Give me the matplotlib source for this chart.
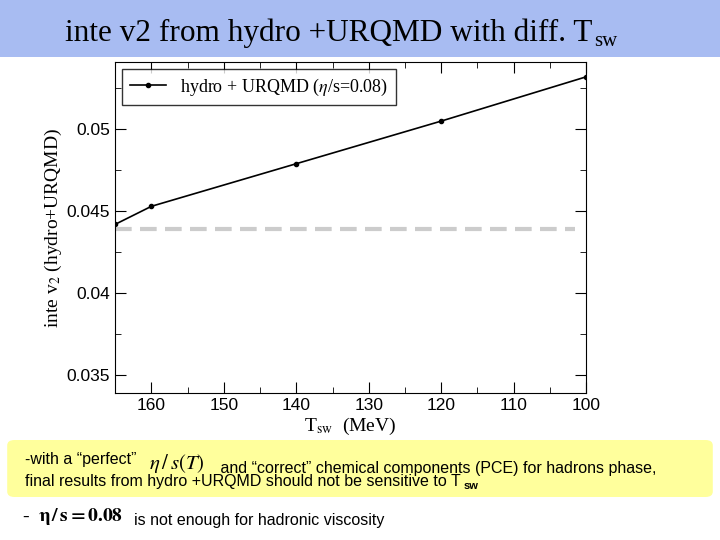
import numpy as np
import matplotlib.pyplot as plt
from matplotlib.patches import Rectangle, FancyBboxPatch

plt.rcParams["font.family"] = ["Liberation Serif", "DejaVu Serif"]
plt.rcParams["mathtext.fontset"] = "stix"

t_sw = [165, 160, 140, 120, 100]
v2 = [0.0442, 0.0453, 0.0479, 0.0505, 0.0532]
ref_v2 = 0.0439

fig = plt.figure(figsize=(7.2, 5.4), dpi=100)
r = fig.canvas.get_renderer()
sans = ["Liberation Sans", "DejaVu Sans"]


def after(txt, s, dy=0.0, **kw):
    # put a small text right after another one
    bb = txt.get_window_extent(renderer=r).transformed(fig.transFigure.inverted())
    return fig.text(bb.x1 + 0.003, bb.y0 + dy, s, **kw)


# title band
fig.patches.append(Rectangle((0, 1 - 57 / 540), 1, 57 / 540, transform=fig.transFigure,
                             facecolor="#a8bcf2", edgecolor="none"))
t = fig.text(0.09, 0.925, "inte v2 from hydro +URQMD with diff. T", fontsize=22.5)
after(t, "sw", dy=0.002, fontsize=15)

ax = fig.add_axes([0.16, 0.272, 0.654, 0.613])
ax.plot(t_sw, v2, color="black", marker="o", markersize=3, linewidth=1.2,
        label=r"hydro + URQMD ($\eta$/s=0.08)")
ax.plot([165, 101.5], [ref_v2, ref_v2], color="#cccccc", linewidth=3, linestyle=(0, (4, 2)))
ax.set_xlim(165, 100)
ax.set_ylim(0.0339, 0.0541)
ax.set_xticks([160, 150, 140, 130, 120, 110, 100])
ax.set_yticks([0.035, 0.04, 0.045, 0.05])
ax.set_yticklabels(["0.035", "0.04", "0.045", "0.05"])
ax.set_yticks(np.arange(0.0375, 0.054, 0.005), minor=True)
ax.set_xticks(np.arange(165, 99, -5), minor=True)
ax.tick_params(which="both", direction="in", top=True, right=True, labelsize=12.5)
ax.tick_params(which="major", length=8)
ax.tick_params(which="minor", length=4)
for lab in ax.get_xticklabels() + ax.get_yticklabels():
    lab.set_family(sans)
ax.set_xlabel(r"T$_{\rm sw}$  (MeV)", fontsize=14, labelpad=2)
ax.set_ylabel(r"inte v$_2$ (hydro+URQMD)", fontsize=14, labelpad=2)
leg = ax.legend(loc="upper left", fontsize=13, frameon=True, fancybox=False,
                handlelength=2, borderaxespad=0.4)
leg.get_frame().set_edgecolor("black")

# yellow note box
fig.patches.append(FancyBboxPatch((0.01, 1 - 497 / 540), 0.98, 57 / 540,
                                  boxstyle="round,pad=0,rounding_size=0.01",
                                  transform=fig.transFigure, facecolor="#ffff9c", edgecolor="none"))
a = fig.text(0.035, 0.14, "-with a \u201cperfect\u201d", fontsize=11.5, family=sans)
b = after(a, r"  $\eta\,/\,s(T)$", dy=-0.003, fontsize=15)
after(b, "   and \u201ccorrect\u201d chemical components (PCE) for hadrons phase,",
      dy=0.003, fontsize=11.5, family=sans)
c = fig.text(0.035, 0.1, "final results from hydro +URQMD should not be sensitive to T",
             fontsize=11.5, family=sans)
after(c, "sw", fontsize=8, family=sans, weight="bold")
d = fig.text(0.03, 0.035, r"-  $\mathbf{\eta\,/\,s = 0.08}$", fontsize=14)
after(d, "  is not enough for hadronic viscosity", dy=0.003, fontsize=11.5, family=sans)

fig.savefig("out.png", dpi=100)
